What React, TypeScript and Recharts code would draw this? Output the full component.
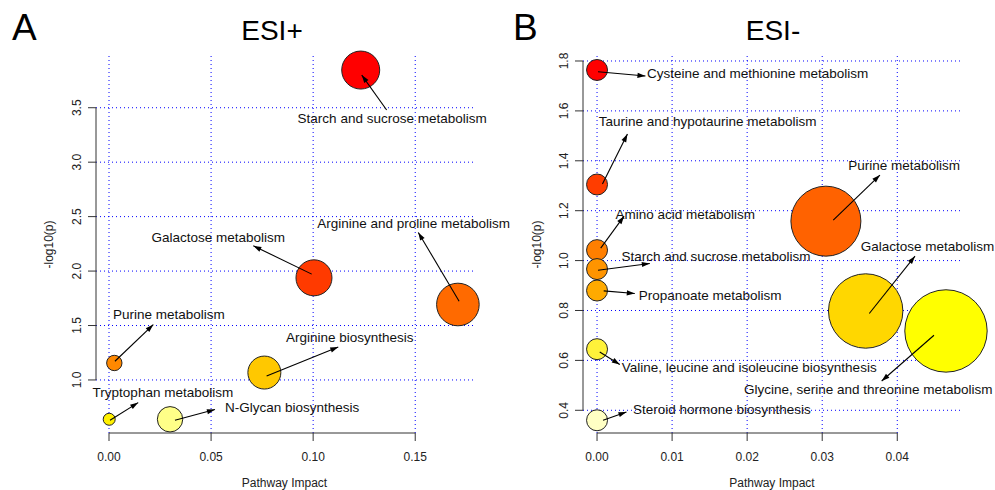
import React from 'react';
import {
  ScatterChart,
  Scatter,
  XAxis,
  YAxis,
  ZAxis,
  CartesianGrid,
  ReferenceLine,
} from 'recharts';

const FONT = '"Liberation Sans", Arial, Helvetica, sans-serif';

// ---- Panel A: ESI+ ----
const aPathways = [
  'Starch and sucrose metabolism',
  'Galactose metabolism',
  'Arginine and proline metabolism',
  'Purine metabolism',
  'Arginine biosynthesis',
  'Tryptophan metabolism',
  'N-Glycan biosynthesis',
];
const aImpact = [0.1233, 0.1004, 0.1709, 0.0026, 0.0761, 0.0001, 0.0299];
const aLogP = [3.846, 1.938, 1.693, 1.156, 1.068, 0.639, 0.639];
const aBubble = [361, 324, 454, 59, 272, 36, 161];
const aColors = ['#ff0000', '#ff3a00', '#ff6a00', '#ff8800', '#ffc800', '#fff000', '#ffff88'];
const aLabelX = [0.1387, 0.0535, 0.1492, 0.0293, 0.1179, 0.0264, 0.0897];
const aLabelY = [3.403, 2.314, 2.443, 1.604, 1.395, 0.884, 0.752];
const aArrowFrom = [[0.136, 3.479], [0.0993, 1.972], [0.1715, 1.723], [0.0029, 1.172], [0.0772, 1.037], [0.0005, 0.63], [0.0323, 0.63]];
const aArrowTo = [[0.1238, 3.8], [0.0707, 2.232], [0.1515, 2.355], [0.0217, 1.509], [0.1123, 1.303], [0.0143, 0.792], [0.0519, 0.728]];
const aXTicks = [0, 0.05, 0.1, 0.15];
const aYTicks = [1.0, 1.5, 2.0, 2.5, 3.0, 3.5];
const aXDomain = [-0.00637, 0.1783];
const aYDomain = [0.513, 3.975];

// ---- Panel B: ESI- ----
const bPathways = [
  'Cysteine and methionine metabolism',
  'Taurine and hypotaurine metabolism',
  'Purine metabolism',
  'Amino acid metabolism',
  'Starch and sucrose metabolism',
  'Galactose metabolism',
  'Propanoate metabolism',
  'Glycine, serine and threonine metabolism',
  'Valine, leucine and isoleucine biosynthesis',
  'Steroid hormone biosynthesis',
];
const bImpact = [0, 0, 0.03049, 0, 0, 0.03579, 0, 0.04649, 0, 0];
const bLogP = [1.764, 1.305, 1.158, 1.042, 0.966, 0.798, 0.88, 0.718, 0.645, 0.36];
const bBubble = [110, 110, 1225, 110, 110, 1384, 110, 1697, 110, 110];
const bColors = ['#ff0000', '#ff3d00', '#ff6200', '#ff7f00', '#ff9400', '#ffd700', '#ffaa00', '#ffff00', '#fff23a', '#ffffc4'];
const bLabelX = [0.02139, 0.01473, 0.04092, 0.01176, 0.01585, 0.04403, 0.01507, 0.03613, 0.02027, 0.01663];
const bLabelY = [1.7506, 1.5565, 1.3828, 1.185, 1.0177, 1.0578, 0.8613, 0.4834, 0.5737, 0.4028];
const bArrowFrom = [[0.00013, 1.757], [0.00072, 1.3065], [0.03147, 1.1621], [0.00049, 1.0498], [0.00013, 0.9616], [0.03627, 0.7879], [0.00089, 0.8785], [0.04489, 0.7008], [0.00036, 0.6339], [0.0008, 0.3599]];
const bArrowTo = [[0.00645, 1.7397], [0.00405, 1.5071], [0.03769, 1.3426], [0.0036, 1.1782], [0.00703, 0.9884], [0.04236, 1.0177], [0.00503, 0.8681], [0.03792, 0.5175], [0.00303, 0.5833], [0.00392, 0.3932]];
const bXTicks = [0, 0.01, 0.02, 0.03, 0.04];
const bYTicks = [0.4, 0.6, 0.8, 1.0, 1.2, 1.4, 1.6, 1.8];
const bXDomain = [-0.00187, 0.04849];
const bYDomain = [0.309, 1.82];

const Bubble = (p: any) => {
  const r = p.size != null ? Math.sqrt(p.size / Math.PI) : p.width / 2;
  return <circle cx={p.cx} cy={p.cy} r={r} fill={p.payload.color} stroke="#222" strokeWidth={1} />;
};

const LabelText = (p: any) => (
  <text x={p.cx} y={p.cy} dy="0.35em" textAnchor="middle" fontSize={13.5} fontFamily={FONT} fill="#111">
    {p.payload.name}
  </text>
);

const NoDot = () => <g />;

// custom Scatter line: draws the two-point series as an arrow (head at the 2nd point)
const ArrowLine = (p: any) => {
  const pts = p.points || [];
  if (pts.length < 2) return <g />;
  const x1 = pts[0].cx ?? pts[0].x;
  const y1 = pts[0].cy ?? pts[0].y;
  const x2 = pts[1].cx ?? pts[1].x;
  const y2 = pts[1].cy ?? pts[1].y;
  const ang = Math.atan2(y2 - y1, x2 - x1);
  const L = 8;
  const W = 2.6;
  const bx = x2 - L * Math.cos(ang);
  const by = y2 - L * Math.sin(ang);
  const px = -Math.sin(ang) * W;
  const py = Math.cos(ang) * W;
  return (
    <g>
      <line x1={x1} y1={y1} x2={x2} y2={y2} stroke="#000" strokeWidth={1.1} />
      <polygon points={`${x2},${y2} ${bx + px},${by + py} ${bx - px},${by - py}`} fill="#000" />
    </g>
  );
};

const YTick = (p: any) => {
  const bx = p.x - 5;
  return (
    <text x={bx} y={p.y} transform={`rotate(-90, ${bx}, ${p.y})`} textAnchor="middle" fontSize={12} fontFamily={FONT} fill="#222">
      {Number(p.payload.value).toFixed(1)}
    </text>
  );
};

interface PanelProps {
  names: string[];
  impact: number[];
  logp: number[];
  bubble: number[];
  colors: string[];
  labelX: number[];
  labelY: number[];
  from: number[][];
  to: number[][];
  xTicks: number[];
  yTicks: number[];
  xDomain: number[];
  yDomain: number[];
  zMax: number;
  width: number;
  margin: { top: number; right: number; bottom: number; left: number };
}

function BubblePanel(props: PanelProps) {
  const bubbles = props.names.map((name, i) => ({
    name,
    x: props.impact[i],
    y: props.logp[i],
    z: props.bubble[i],
    color: props.colors[i],
  }));
  const labels = props.names.map((name, i) => ({ name, x: props.labelX[i], y: props.labelY[i] }));
  const xMin = props.xDomain[0];
  const yMin = props.yDomain[0];
  const yt = props.yTicks;
  const xt = props.xTicks;

  return (
    <ScatterChart width={props.width} height={490} margin={props.margin}>
      <CartesianGrid
        stroke="#0000ff"
        strokeDasharray="1 3"
        strokeWidth={1}
        horizontalValues={yt}
        verticalValues={xt}
      />
      <XAxis
        type="number"
        dataKey="x"
        domain={props.xDomain}
        ticks={xt}
        interval={0}
        height={57}
        axisLine={false}
        tickSize={8}
        tickMargin={11}
        tickLine={{ stroke: '#333' }}
        tick={{ fontSize: 12, fill: '#222', fontFamily: FONT }}
        tickFormatter={(v: number) => v.toFixed(2)}
      />
      <YAxis
        type="number"
        dataKey="y"
        domain={props.yDomain}
        ticks={yt}
        interval={0}
        width={40}
        axisLine={false}
        tickSize={8}
        tickMargin={2}
        tickLine={{ stroke: '#333' }}
        tick={<YTick />}
      />
      <ZAxis type="number" dataKey="z" domain={[0, props.zMax]} range={[0, props.zMax * Math.PI]} />
      <ReferenceLine
        segment={[{ x: xMin, y: yt[0] }, { x: xMin, y: yt[yt.length - 1] }]}
        stroke="#333"
        strokeWidth={1}
        ifOverflow="visible"
      />
      <ReferenceLine
        segment={[{ x: xt[0], y: yMin }, { x: xt[xt.length - 1], y: yMin }]}
        stroke="#333"
        strokeWidth={1}
        ifOverflow="visible"
      />
      <Scatter data={bubbles} shape={<Bubble />} isAnimationActive={false} />
      <Scatter data={labels} shape={<LabelText />} isAnimationActive={false} />
      {props.names.map((name, i) => (
        <Scatter
          key={name}
          data={[
            { x: props.from[i][0], y: props.from[i][1] },
            { x: props.to[i][0], y: props.to[i][1] },
          ]}
          line={(lp: any) => <ArrowLine {...lp} />}
          shape={<NoDot />}
          isAnimationActive={false}
        />
      ))}
    </ScatterChart>
  );
}

export default function App() {
  return (
    <div style={{ position: 'absolute', left: 0, top: 0, width: 995, height: 490, background: '#fff', fontFamily: FONT }}>
      <style>{'.recharts-surface { overflow: visible; }'}</style>
      <div style={{ position: 'absolute', left: 0, top: 0 }}>
        <BubblePanel
          names={aPathways}
          impact={aImpact}
          logp={aLogP}
          bubble={aBubble}
          colors={aColors}
          labelX={aLabelX}
          labelY={aLabelY}
          from={aArrowFrom}
          to={aArrowTo}
          xTicks={aXTicks}
          yTicks={aYTicks}
          xDomain={aXDomain}
          yDomain={aYDomain}
          zMax={1000}
          width={495}
          margin={{ top: 56, right: 22, bottom: 0, left: 56 }}
        />
      </div>
      <div style={{ position: 'absolute', left: 495, top: 0 }}>
        <BubblePanel
          names={bPathways}
          impact={bImpact}
          logp={bLogP}
          bubble={bBubble}
          colors={bColors}
          labelX={bLabelX}
          labelY={bLabelY}
          from={bArrowFrom}
          to={bArrowTo}
          xTicks={bXTicks}
          yTicks={bYTicks}
          xDomain={bXDomain}
          yDomain={bYDomain}
          zMax={2000}
          width={500}
          margin={{ top: 56, right: 34, bottom: 0, left: 48 }}
        />
      </div>
      <svg width={995} height={490} style={{ position: 'absolute', left: 0, top: 0, pointerEvents: 'none' }}>
        <g fontFamily={FONT} fill="#000">
          <text x={12} y={40} fontSize={37}>A</text>
          <text x={272} y={40} fontSize={28} textAnchor="middle">ESI+</text>
          <text x={513} y={40} fontSize={37}>B</text>
          <text x={773} y={40} fontSize={28} textAnchor="middle">ESI-</text>
          <text x={52.5} y={244.5} fontSize={12} textAnchor="middle" fill="#222" transform="rotate(-90, 52.5, 244.5)">-log10(p)</text>
          <text x={540.5} y={244.5} fontSize={12} textAnchor="middle" fill="#222" transform="rotate(-90, 540.5, 244.5)">-log10(p)</text>
          <text x={284.5} y={487} fontSize={12} textAnchor="middle" fill="#222">Pathway Impact</text>
          <text x={772} y={487} fontSize={12} textAnchor="middle" fill="#222">Pathway Impact</text>
        </g>
      </svg>
    </div>
  );
}
